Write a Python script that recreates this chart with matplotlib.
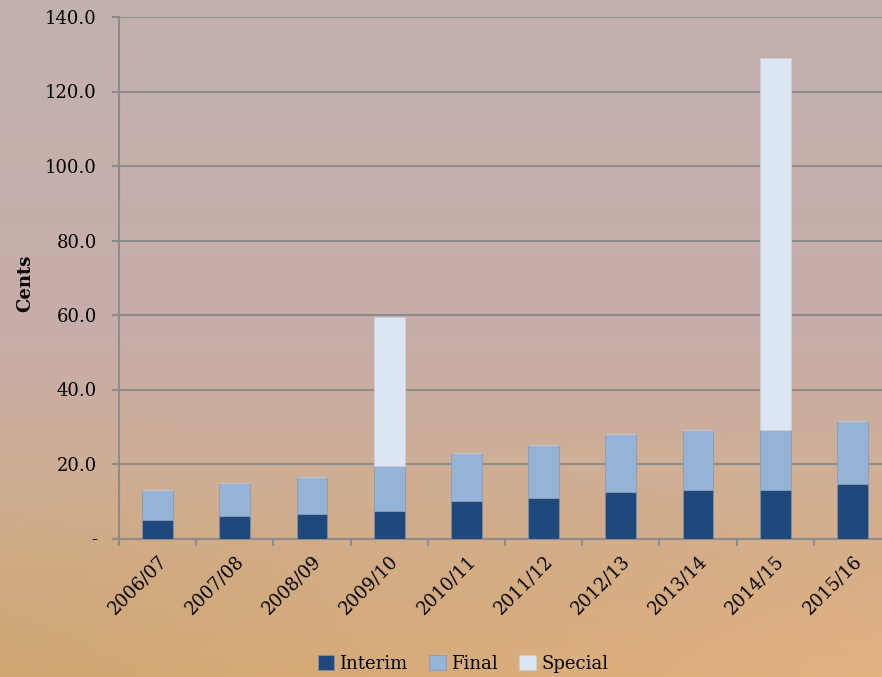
import numpy as np
import matplotlib
matplotlib.use('Agg')
import matplotlib.pyplot as plt
import matplotlib.transforms as mtransforms
from matplotlib.ticker import FixedLocator, FuncFormatter

plt.rcParams['font.family'] = 'DejaVu Serif'
plt.rcParams['font.size'] = 13

# Dividends per share (cents)
years = ['2006/07', '2007/08', '2008/09', '2009/10', '2010/11',
         '2011/12', '2012/13', '2013/14', '2014/15', '2015/16']
interim = [5.0, 6.0, 6.5, 7.5, 10.0, 11.0, 12.5, 13.0, 13.0, 14.5]
final = [8.0, 9.0, 10.0, 12.0, 13.0, 14.0, 15.5, 16.0, 16.0, 17.0]
special = [0, 0, 0, 40.0, 0, 0, 0, 0, 100.0, 0]

c_interim = '#1f497d'
c_final = '#95b3d7'
c_special = '#dce6f2'
grey = '#8c8c8c'

fig = plt.figure(figsize=(8.82, 6.77), dpi=100)

# warm backdrop: mauve at the top fading into tan/orange at the bottom
bg = fig.add_axes([0, 0, 1, 1], zorder=-10)
h, w = 677, 882
t = np.linspace(0, 1, h)[:, None]
stops = np.array([0.0, 0.5, 0.68, 0.85, 1.0])
cols = np.array([[194, 177, 174], [200, 173, 169], [206, 174, 150],
                 [211, 172, 131], [216, 172, 121]]) / 255
img = np.zeros((h, w, 3))
for k in range(3):
    img[:, :, k] = np.interp(t[:, 0], stops, cols[:, k])[:, None]
xs = np.linspace(-1, 1, w)[None, :]
warm = np.clip((t - 0.6) / 0.4, 0, 1) ** 1.5
img[:, :, 0] += warm * xs * 10 / 255
img[:, :, 1] += warm * xs * 6 / 255
img[:, :, 2] += warm * xs * 8 / 255
bg.imshow(np.clip(img, 0, 1), aspect='auto', extent=[0, 1, 0, 1])
bg.axis('off')

ax = fig.add_axes([119 / 882, 138.5 / 677, 772 / 882, 521.5 / 677])
ax.patch.set_alpha(0)

x = np.arange(len(years))
bw = 0.40
bottom2 = np.array(interim) + np.array(final)
ax.bar(x, interim, bw, color=c_interim, edgecolor='#7f8fa6', linewidth=0.6,
       label='Interim', zorder=3)
ax.bar(x, final, bw, bottom=interim, color=c_final, edgecolor='#8a9bb2',
       linewidth=0.6, label='Final', zorder=3)
ax.bar(x, special, bw, bottom=bottom2, color=c_special, edgecolor='#c8cfd8',
       linewidth=0.6, label='Special', zorder=3)

ax.set_xlim(-0.5, len(years) - 0.5)
ax.set_ylim(0, 140)
ax.set_yticks(np.arange(0, 141, 20))
ax.yaxis.set_major_formatter(FuncFormatter(lambda v, p: '-' if v == 0 else f'{v:.1f}'))
ax.yaxis.grid(True, color=grey, linewidth=1.5, zorder=0)
ax.set_axisbelow(True)

ax.set_xticks(x)
ax.set_xticklabels(years, rotation=45, ha='right', rotation_mode='anchor')
shift = mtransforms.ScaledTranslation(12 / 100, 0, fig.dpi_scale_trans)
for lbl in ax.get_xticklabels():
    lbl.set_transform(lbl.get_transform() + shift)
ax.xaxis.set_minor_locator(FixedLocator(np.arange(-0.5, len(years), 1)))
ax.tick_params(axis='x', which='major', length=0, pad=10)
ax.tick_params(axis='x', which='minor', length=5, width=1.5, color=grey)
ax.tick_params(axis='y', length=5, width=1.5, color=grey, pad=11)

for s in ['top', 'right']:
    ax.spines[s].set_visible(False)
for s in ['left', 'bottom']:
    ax.spines[s].set_color(grey)
    ax.spines[s].set_linewidth(1.5)

ax.set_ylabel('Cents', fontweight='bold', labelpad=14)
ax.yaxis.set_label_coords(-0.11, 0.49)

fig.legend(loc='center', bbox_to_anchor=(0.525, 0.019), ncol=3, frameon=False,
           handlelength=0.9, handleheight=0.9, handletextpad=0.3,
           columnspacing=1.2, borderpad=0)

fig.savefig('out.png', dpi=100)
